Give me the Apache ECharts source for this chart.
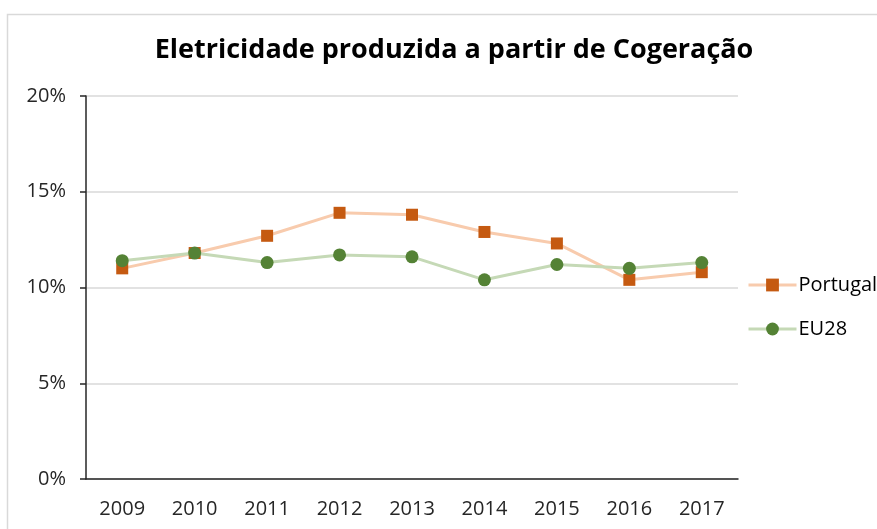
<!DOCTYPE html>
<html>
<head>
<meta charset="utf-8">
<script src="https://cdn.jsdelivr.net/npm/echarts@6/dist/echarts.min.js"></script>
<style>html,body{margin:0;padding:0;background:#fff;}#c{width:877px;height:529px;}</style>
</head>
<body>
<div id="c"></div>
<script>
const categories = ['2009','2010','2011','2012','2013','2014','2015','2016','2017'];
const portugal = [11.0, 11.8, 12.7, 13.9, 13.8, 12.9, 12.3, 10.4, 10.8];
const eu28 = [11.4, 11.8, 11.3, 11.7, 11.6, 10.4, 11.2, 11.0, 11.3];
const yTicks = [0, 5, 10, 15, 20];

const chart = echarts.init(document.getElementById('c'), null, {renderer: 'canvas'});
const font = '"Open Sans", "Noto Sans", sans-serif';
chart.setOption({
  animation: false,
  backgroundColor: '#fff',
  graphic: [{
    type: 'rect', left: 5, top: 12, shape: {width: 900, height: 540},
    style: {fill: 'none', stroke: '#D9D9D9', lineWidth: 1.5}, silent: true
  }],
  title: {
    text: 'Eletricidade produzida a partir de Cogeração',
    left: 449, top: 32, textAlign: 'center',
    textStyle: {fontFamily: font, fontSize: 27, fontWeight: 'bold', color: '#000'}
  },
  legend: {
    orient: 'vertical', left: 742, top: 270, itemGap: 24,
    itemWidth: 48, itemHeight: 16,
    lineStyle: {width: 3},
    textStyle: {fontFamily: font, fontSize: 20, color: '#000', padding: [0,0,0,-3]},
    data: ['Portugal', 'EU28']
  },
  grid: {left: 86, right: 139, top: 96, bottom: 50, containLabel: false},
  xAxis: {
    type: 'category', data: categories, boundaryGap: true,
    axisLine: {show: true, lineStyle: {color: '#262626', width: 1.5}},
    axisTick: {show: false},
    axisLabel: {fontFamily: font, fontSize: 20, color: '#262626', margin: 20}
  },
  yAxis: {
    type: 'value', min: 0, max: 20, interval: 5,
    axisLine: {show: true, lineStyle: {color: '#262626', width: 1.5}},
    axisTick: {show: true, length: 6, lineStyle: {color: '#262626', width: 1.5}},
    axisLabel: {fontFamily: font, fontSize: 20, color: '#262626', margin: 20,
      formatter: v => yTicks.includes(v) ? v + '%' : ''},
    splitLine: {show: true, lineStyle: {color: '#D9D9D9', width: 1.5}}
  },
  series: [
    {
      name: 'Portugal', type: 'line', data: portugal,
      symbol: 'rect', symbolSize: 12,
      lineStyle: {color: '#F8CBAD', width: 3},
      itemStyle: {color: '#C55A11'},
      z: 2
    },
    {
      name: 'EU28', type: 'line', data: eu28,
      symbol: 'circle', symbolSize: 13,
      lineStyle: {color: '#C5D9B6', width: 3},
      itemStyle: {color: '#548235'},
      z: 3
    }
  ]
});
</script>
</body>
</html>
